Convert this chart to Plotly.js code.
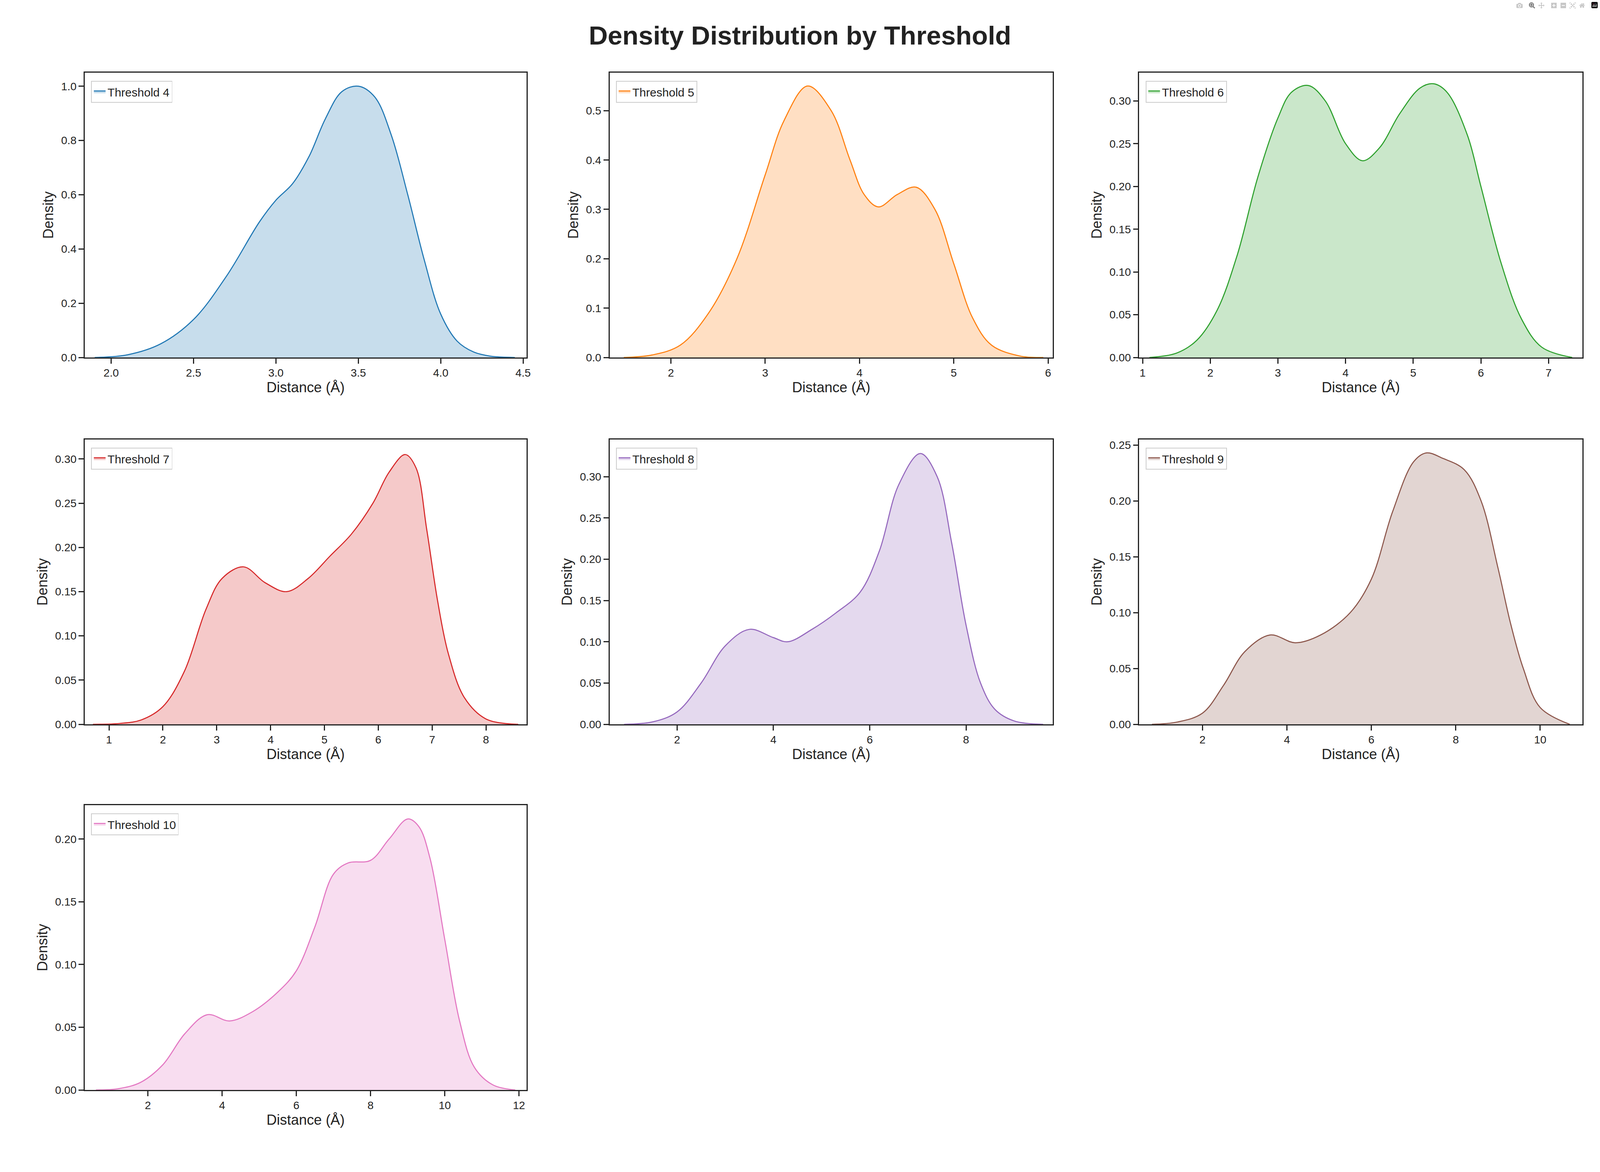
<!DOCTYPE html>
<html>
<head>
<meta charset="utf-8">
<script src="https://cdn.plot.ly/plotly-3.0.1.min.js"></script>
<style>html,body{margin:0;padding:0;background:#fff;overflow:hidden}</style>
</head>
<body>
<div id="myDiv"></div>
<script>
// density curves
var x4 = [1.9,2.1,2.3,2.5,2.7,2.9,3.0,3.1,3.2,3.3,3.4,3.5,3.6,3.7,3.8,3.9,4.0,4.1,4.2,4.3,4.45];
var y4 = [0,0.01,0.05,0.14,0.30,0.50,0.58,0.64,0.74,0.88,0.98,1.0,0.96,0.82,0.6,0.36,0.16,0.06,0.02,0.005,0];
var x5 = [1.5,1.8,2.1,2.4,2.7,3.0,3.2,3.45,3.7,3.9,4.05,4.2,4.4,4.6,4.8,5.0,5.2,5.4,5.7,5.95];
var y5 = [0,0.005,0.025,0.09,0.2,0.37,0.48,0.55,0.5,0.4,0.33,0.305,0.33,0.345,0.3,0.19,0.08,0.025,0.003,0];
var x6 = [1.1,1.5,1.8,2.1,2.4,2.7,3.0,3.2,3.45,3.7,4.0,4.25,4.5,4.8,5.1,5.3,5.5,5.8,6.0,6.3,6.6,6.9,7.35];
var y6 = [0,0.005,0.02,0.055,0.12,0.21,0.28,0.31,0.318,0.3,0.25,0.23,0.245,0.285,0.315,0.32,0.31,0.26,0.2,0.11,0.045,0.012,0];
var x7 = [0.7,1.2,1.6,2.0,2.4,2.8,3.1,3.5,3.9,4.3,4.7,5.1,5.5,5.9,6.2,6.5,6.7,6.9,7.1,7.3,7.6,8.0,8.6];
var y7 = [0,0.001,0.005,0.02,0.06,0.13,0.165,0.178,0.16,0.15,0.165,0.19,0.215,0.25,0.285,0.305,0.29,0.22,0.14,0.08,0.03,0.006,0];
var x8 = [0.9,1.5,2.0,2.5,3.0,3.5,4.0,4.3,4.8,5.3,5.8,6.2,6.6,7.05,7.4,7.7,8.0,8.3,8.6,9.0,9.6];
var y8 = [0,0.003,0.015,0.05,0.095,0.115,0.105,0.1,0.115,0.135,0.16,0.21,0.29,0.328,0.3,0.22,0.12,0.05,0.018,0.004,0];
var x9 = [0.8,1.4,2.0,2.5,3.0,3.6,4.2,4.8,5.5,6.0,6.5,7.0,7.3,7.7,8.2,8.6,9.0,9.3,9.6,10.0,10.7];
var y9 = [0,0.002,0.01,0.035,0.065,0.08,0.073,0.08,0.1,0.13,0.19,0.235,0.243,0.238,0.228,0.2,0.14,0.09,0.05,0.015,0];
var x10 = [0.6,1.2,1.8,2.4,3.0,3.6,4.2,4.8,5.5,6.0,6.5,7.0,7.4,8.0,8.5,9.0,9.3,9.6,10.0,10.4,10.8,11.3,11.9];
var y10 = [0,0.001,0.006,0.02,0.045,0.06,0.055,0.062,0.078,0.095,0.13,0.172,0.181,0.183,0.2,0.216,0.21,0.185,0.12,0.055,0.018,0.004,0];

var names = ["Threshold 4","Threshold 5","Threshold 6","Threshold 7","Threshold 8","Threshold 9","Threshold 10"];
var xs = [x4,x5,x6,x7,x8,x9,x10];
var ys = [y4,y5,y6,y7,y8,y9,y10];
var colors = ["#1f77b4","#ff7f0e","#2ca02c","#d62728","#9467bd","#8c564b","#e377c2"];
var fills = ["rgba(31,119,180,0.25)","rgba(255,127,14,0.25)","rgba(44,160,44,0.25)","rgba(214,39,40,0.25)","rgba(148,103,189,0.25)","rgba(140,86,75,0.25)","rgba(227,119,194,0.25)"];
var xranges = [[1.84,4.52],[1.35,6.05],[0.95,7.5],[0.55,8.75],[0.6,9.8],[0.5,11.0],[0.3,12.2]];
var xdt = [0.5,1,1,1,2,2,2];
var ymax = [1.05,0.577,0.333,0.322,0.345,0.255,0.227];
var ydt = [0.2,0.1,0.05,0.05,0.05,0.05,0.05];

var xdom = [[0.053,0.329],[0.381,0.658],[0.712,0.989]];
var ydom = [[0.695,0.938],[0.382,0.625],[0.070,0.313]];
var fnt = "Liberation Sans, Arial, sans-serif";

// the viewport may be smaller than 4500 css px, so scale everything to it
var W = window.innerWidth || 4500, H = window.innerHeight || 3000;
var s = Math.min(W / 4500, H / 3000);
document.getElementById('myDiv').style.width = W + "px";
document.getElementById('myDiv').style.height = H + "px";

var data = [];
var layout = {
  width: W, height: H,
  paper_bgcolor: "white", plot_bgcolor: "white",
  margin: {t: 0, b: 0, l: 0, r: 0},
  font: {family: fnt, color: "#222"},
  title: {text: "<b>Density Distribution by Threshold</b>", x: 0.5, y: 0.97, yanchor: "middle", font: {size: 74 * s, family: fnt, color: "#222"}},
  showlegend: true
};

for (var i = 0; i < 7; i++) {
  var r = Math.floor(i / 3), c = i % 3;
  var sfx = i === 0 ? "" : String(i + 1);
  var lg = i === 0 ? "legend" : "legend" + (i + 1);
  data.push({
    type: "scatter", mode: "lines", x: xs[i], y: ys[i], name: names[i],
    xaxis: "x" + sfx, yaxis: "y" + sfx, legend: lg,
    line: {color: colors[i], width: 3 * s, shape: "spline", smoothing: 1},
    fill: "tozeroy", fillcolor: fills[i]
  });
  var common = {showline: true, mirror: true, linecolor: "#222", linewidth: 3 * s,
    ticks: "outside", ticklen: 14 * s, tickwidth: 3 * s, tickcolor: "#222",
    showgrid: false, zeroline: false, tickfont: {size: 31 * s, family: fnt, color: "#222"}};
  layout["xaxis" + sfx] = Object.assign({}, common, {
    domain: xdom[c], anchor: "y" + sfx, range: xranges[i], dtick: xdt[i],
    tickformat: i === 0 ? ".1f" : "d",
    title: {text: "Distance (Å)", font: {size: 40 * s, family: fnt, color: "#222"}, standoff: 10 * s}
  });
  layout["yaxis" + sfx] = Object.assign({}, common, {
    domain: ydom[r], anchor: "x" + sfx, range: [0, ymax[i]], dtick: ydt[i],
    tickformat: ydt[i] < 0.1 ? ".2f" : ".1f",
    title: {text: "Density", font: {size: 40 * s, family: fnt, color: "#222"}, standoff: 10 * s}
  });
  layout[lg] = {
    x: xdom[c][0] + 0.004, y: ydom[r][1] - 0.007, xanchor: "left", yanchor: "top",
    bgcolor: "white", bordercolor: "#ccc", borderwidth: 2 * s,
    font: {size: 33 * s, family: fnt, color: "#222"}
  };
}

Plotly.newPlot('myDiv', data, layout);
</script>
</body>
</html>
